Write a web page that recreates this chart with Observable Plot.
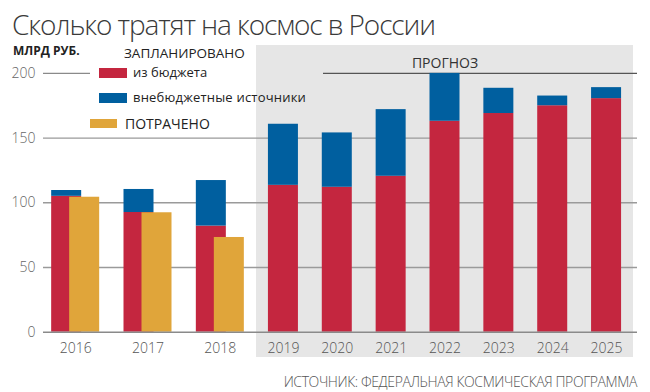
<!DOCTYPE html>
<html><head><meta charset="utf-8">
<script src="https://cdn.jsdelivr.net/npm/d3@7"></script>
<script src="https://cdn.jsdelivr.net/npm/@observablehq/plot@0.6"></script>
<style>
body{margin:0;background:#fff;}
#wrap{position:relative;width:650px;height:392px;font-family:"Open Sans",sans-serif;overflow:hidden;}
#wrap svg{position:absolute;left:0;top:0;}
.t{position:absolute;white-space:nowrap;line-height:1;color:#222;}
.sw{position:absolute;}
</style></head><body>
<div id="wrap"></div>
<script>
// ---- data ----
const years = [2016, 2017, 2018, 2019, 2020, 2021, 2022, 2023, 2024, 2025];
const fromBudget = [105, 92.5, 82, 113.5, 112, 120.5, 163, 169, 175, 180.5];
const offBudget = [4.5, 17.8, 35.2, 47.2, 42, 51.5, 37, 19.5, 7.5, 8.5];
const spent = [104.3, 92.3, 73.2]; // 2016–2018
const yTicks = [0, 50, 100, 150, 200];
const title = "Сколько тратят на космос в России";
const unitLabel = "МЛРД РУБ.";
const plannedLabel = "ЗАПЛАНИРОВАНО";
const seriesLabels = ["из бюджета", "внебюджетные источники", "ПОТРАЧЕНО"];
const forecastLabel = "ПРОГНОЗ";
const sourceLabel = "ИСТОЧНИК: ФЕДЕРАЛЬНАЯ КОСМИЧЕСКАЯ ПРОГРАММА";
const firstForecastYear = 2019;

const RED = "#c4263f", BLUE = "#005f9f", YELLOW = "#e0a53a";

const rows = years.map((year, i) => ({
  year, budget: fromBudget[i], extra: offBudget[i],
  total: fromBudget[i] + offBudget[i], spent: spent[i]
}));
const hist = rows.filter(d => d.spent !== undefined);
const fcst = rows.filter(d => d.spent === undefined);

const xBreaks = [years[0] - 0.5, firstForecastYear - 0.5, years[years.length - 1] + 0.5];
const half = 15;

const chart = Plot.plot({
  width: 650, height: 392,
  marginTop: 45, marginBottom: 35, marginLeft: 39, marginRight: 17,
  x: {type: "linear", domain: xBreaks, range: [39, 256, 633], axis: null},
  y: {domain: [0, 200], range: [331.7, 72.9], axis: null},
  style: {fontFamily: "'Open Sans', sans-serif", background: "transparent"},
  marks: [
    Plot.rect([xBreaks], {x1: d => d[1], x2: d => d[2], fill: "#e6e6e6"}),
    Plot.ruleY(yTicks.slice(1, -1), {stroke: "#9a9a9a", strokeWidth: 1.4, dx: 4}),
    Plot.ruleY([yTicks[yTicks.length - 1]], {stroke: "#8a8a8a", strokeWidth: 1.2, dx: 4, insetRight: 547}),
    Plot.ruleY([yTicks[yTicks.length - 1]], {stroke: "#555", strokeWidth: 1.2, dx: 4, insetLeft: 280}),
    // historical planned
    Plot.rect(hist, {x1: "year", x2: "year", y1: 0, y2: "budget", insetLeft: -half, insetRight: -half, dx: -9, fill: RED}),
    Plot.rect(hist, {x1: "year", x2: "year", y1: "budget", y2: "total", insetLeft: -half, insetRight: -half, dx: -9, fill: BLUE}),
    // spent
    Plot.rect(hist, {x1: "year", x2: "year", y1: 0, y2: "spent", insetLeft: -half, insetRight: -half, dx: 9, fill: YELLOW}),
    // forecast
    Plot.rect(fcst, {x1: "year", x2: "year", y1: 0, y2: "budget", insetLeft: -half, insetRight: -half, fill: RED}),
    Plot.rect(fcst, {x1: "year", x2: "year", y1: "budget", y2: "total", insetLeft: -half, insetRight: -half, fill: BLUE}),
    Plot.ruleY([0], {stroke: "#8a8a8a", strokeWidth: 1.6, dx: 4}),
    // axis labels
    Plot.text(years, {x: d => d, y: 0, dy: 16, fill: "#555", fontSize: 14, fontWeight: 300, text: d => String(d)}),
    Plot.text(yTicks, {y: d => d, frameAnchor: "left", textAnchor: "end", dx: -4, fill: "#666", fontSize: 14, fontWeight: 300, text: d => String(d)}),
    Plot.text([forecastLabel], {x: () => (xBreaks[1] + xBreaks[2]) / 2, frameAnchor: "top", dy: 13, fill: "#333", fontSize: 14, text: d => d})
  ]
});
const wrap = document.getElementById("wrap");
wrap.appendChild(chart);

function addText(txt, css) {
  const d = document.createElement("div");
  d.className = "t"; d.textContent = txt;
  Object.assign(d.style, css);
  wrap.appendChild(d);
}
function addSwatch(color, css) {
  const d = document.createElement("div");
  d.className = "sw";
  Object.assign(d.style, css, {background: color});
  wrap.appendChild(d);
}
addText(title, {left: "12px", top: "10px", fontSize: "28px", fontWeight: 300, color: "#3a3a3a", letterSpacing: "-1.1px"});
addText(unitLabel, {left: "13px", top: "45px", fontSize: "12px", fontWeight: 700, color: "#222"});
addText(plannedLabel, {left: "124px", top: "47px", fontSize: "13.5px"});
addSwatch(RED, {left: "99px", top: "68px", width: "28px", height: "10px"});
addText(seriesLabels[0], {left: "133px", top: "66px", fontSize: "13px"});
addSwatch(BLUE, {left: "99px", top: "93px", width: "28px", height: "10px"});
addText(seriesLabels[1], {left: "133px", top: "91px", fontSize: "13px", letterSpacing: "0.2px"});
addSwatch(YELLOW, {left: "90px", top: "119px", width: "27px", height: "9px"});
addText(seriesLabels[2], {left: "125px", top: "117px", fontSize: "14px"});
addText(sourceLabel, {right: "13px", top: "375px", fontSize: "14px", fontWeight: 300, color: "#555", letterSpacing: "-0.4px"});
</script>
</body></html>
